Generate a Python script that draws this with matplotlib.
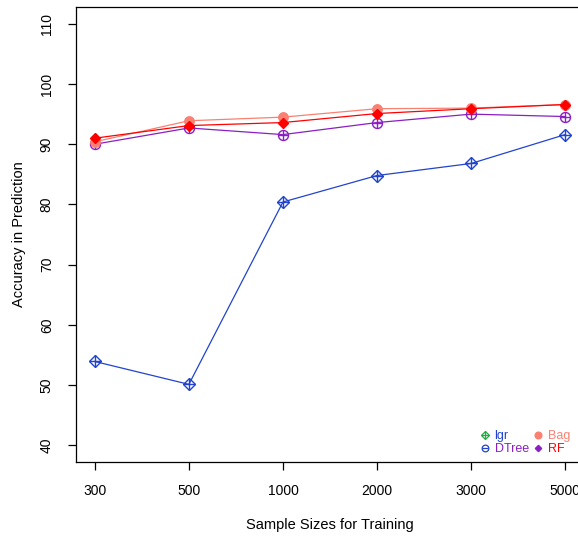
import matplotlib
matplotlib.use("Agg")
import matplotlib.pyplot as plt
from matplotlib.lines import Line2D

plt.rcParams["font.family"] = ["Liberation Sans", "DejaVu Sans"]

sizes = ["300", "500", "1000", "2000", "3000", "5000"]
lgr = [53.9, 50.1, 80.4, 84.8, 86.8, 91.6]
dtree = [90.0, 92.7, 91.6, 93.6, 95.0, 94.6]
bag = [90.4, 93.9, 94.5, 95.9, 96.0, 96.6]
rf = [91.0, 93.1, 93.6, 95.1, 95.9, 96.6]

BLUE = "#2244cc"
PURPLE = "#8a1fc2"
SALMON = "#fa8072"
RED = "#ff0000"
GREEN = "#22aa44"

fig = plt.figure(figsize=(5.78, 5.37), dpi=100)
W, H = 578, 537
ax = fig.add_axes([76 / W, (H - 462) / H, (584 - 76) / W, (462 - 7) / H])

x = list(range(1, len(sizes) + 1))

# lgr: diamond with plus
ax.plot(x, lgr, color=BLUE, lw=0.9, marker="D", ms=6.2, mfc="none", mec=BLUE, mew=1.0)
ax.plot(x, lgr, ls="none", marker="+", ms=8.5, mec=BLUE, mew=1.0)
# DTree: circle with plus
ax.plot(x, dtree, color=PURPLE, lw=0.9, marker="o", ms=7.2, mfc="none", mec=PURPLE, mew=1.0)
ax.plot(x, dtree, ls="none", marker="+", ms=7.2, mec=PURPLE, mew=1.0)
# Bag: filled circle
ax.plot(x, bag, color=SALMON, lw=0.9, marker="o", ms=6.8, mfc=SALMON, mec=SALMON)
# RF: filled diamond
ax.plot(x, rf, color=RED, lw=0.9, marker="D", ms=5.0, mfc=RED, mec=RED)

ax.set_xlim(0.8, 6.2)
ax.set_ylim(37.2, 112.8)
ax.set_xticks(x)
ax.set_xticklabels(sizes)
ax.set_yticks(range(40, 111, 10))
ax.tick_params(axis="both", direction="out", length=6, width=0.9, labelsize=10, pad=10)
ax.tick_params(axis="y", labelrotation=90, pad=10)
for lab in ax.get_yticklabels():
    lab.set_va("center")
for s in ax.spines.values():
    s.set_linewidth(0.9)

ax.set_xlabel("Sample Sizes for Training", fontsize=10.5, labelpad=14)
ax.set_ylabel("Accuracy in Prediction", fontsize=10.5, labelpad=10)

# legend (markers as in the original, small, text colored)
h_lgr = (Line2D([], [], ls="none", marker="D", ms=4.2, mfc="none", mec=GREEN, mew=0.9),
         Line2D([], [], ls="none", marker="+", ms=5.8, mec=GREEN, mew=0.9))
h_dt = (Line2D([], [], ls="none", marker="o", ms=4.8, mfc="none", mec=BLUE, mew=0.9),
        Line2D([], [], ls="none", marker="_", ms=4.8, mec=BLUE, mew=0.9))
h_bag = Line2D([], [], ls="none", marker="o", ms=4.8, mfc=SALMON, mec=SALMON)
h_rf = Line2D([], [], ls="none", marker="D", ms=3.2, mfc=PURPLE, mec=PURPLE)
leg = ax.legend([h_lgr, h_dt, h_bag, h_rf], ["lgr", "DTree", "Bag", "RF"],
                ncol=2, frameon=False, fontsize=9, loc="upper left",
                bbox_to_anchor=(472 / W, 1 - 424 / H), bbox_transform=fig.transFigure,
                borderpad=0, handlelength=1.0, handletextpad=0.3,
                columnspacing=0.25, labelspacing=0.1)
for t, c in zip(leg.get_texts(), [BLUE, PURPLE, SALMON, RED]):
    t.set_color(c)

fig.savefig("out.png", dpi=100)
